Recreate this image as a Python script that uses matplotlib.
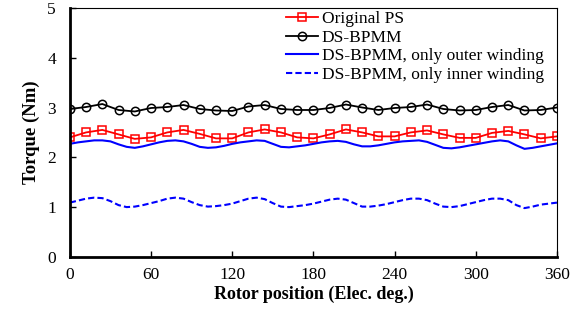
import numpy as np
import matplotlib
matplotlib.use('Agg')
import matplotlib.pyplot as plt

plt.rcParams['font.family'] = ['Liberation Serif', 'DejaVu Serif']

# rotor position (elec. deg)
x_mark = np.arange(0, 361, 12)
x_fine = np.arange(0, 361, 6)

original_ps = [2.40, 2.50, 2.55, 2.46, 2.37, 2.40, 2.50, 2.55, 2.47, 2.38,
               2.38, 2.50, 2.56, 2.50, 2.40, 2.38, 2.46, 2.56, 2.50, 2.42,
               2.42, 2.50, 2.54, 2.46, 2.39, 2.39, 2.49, 2.53, 2.46, 2.38, 2.42]

ds_bpmm = [2.97, 3.01, 3.07, 2.95, 2.92, 2.99, 3.01, 3.05, 2.97, 2.94,
           2.93, 3.02, 3.05, 2.97, 2.95, 2.95, 2.99, 3.06, 3.00, 2.95,
           2.99, 3.01, 3.06, 2.97, 2.94, 2.95, 3.01, 3.05, 2.94, 2.95, 3.00]

outer_only = [2.27, 2.30, 2.32, 2.34, 2.34, 2.32, 2.26, 2.21, 2.19, 2.22,
              2.26, 2.30, 2.33, 2.34, 2.32, 2.27, 2.21, 2.19, 2.20, 2.23,
              2.27, 2.30, 2.32, 2.34, 2.33, 2.27, 2.21, 2.20, 2.22, 2.24,
              2.27, 2.30, 2.32, 2.33, 2.31, 2.26, 2.22, 2.22, 2.24, 2.27,
              2.30, 2.32, 2.33, 2.34, 2.31, 2.25, 2.19, 2.18, 2.20, 2.23,
              2.26, 2.29, 2.32, 2.34, 2.32, 2.24, 2.17, 2.19, 2.22, 2.25, 2.28]

inner_only = [1.09, 1.13, 1.17, 1.19, 1.18, 1.12, 1.04, 1.00, 1.01, 1.04,
              1.08, 1.12, 1.17, 1.19, 1.17, 1.10, 1.04, 1.01, 1.02, 1.04,
              1.07, 1.12, 1.17, 1.19, 1.16, 1.08, 1.01, 1.00, 1.02, 1.04,
              1.07, 1.11, 1.15, 1.17, 1.15, 1.08, 1.01, 1.01, 1.03, 1.06,
              1.10, 1.14, 1.17, 1.17, 1.14, 1.07, 1.01, 1.00, 1.02, 1.06,
              1.10, 1.14, 1.17, 1.17, 1.14, 1.04, 0.98, 1.01, 1.05, 1.07, 1.09]

fig = plt.figure(figsize=(5.82, 3.16), dpi=100)
ax = fig.add_axes([0.120, 0.187, 0.837, 0.788])

ax.plot(x_mark, original_ps, color='red', lw=1.3, marker='s', ms=6,
        mfc='none', mec='red', mew=1.1, label='Original PS')
ax.plot(x_mark, ds_bpmm, color='black', lw=1.3, marker='o', ms=6,
        mfc='none', mec='black', mew=1.1, label='DS-BPMM')
ax.plot(x_fine, outer_only, color='blue', lw=1.5,
        label='DS-BPMM, only outer winding')
ax.plot(x_fine, inner_only, color='blue', lw=1.5, ls=(0, (3, 1.5)),
        label='DS-BPMM, only inner winding')

ax.set_xlim(0, 360)
ax.set_ylim(0, 5)
ax.set_xticks(range(0, 361, 60))
ax.set_yticks(range(0, 6))
ax.tick_params(direction='in', length=4, width=1, labelsize=12.5, pad=7)
ax.tick_params(axis='y', pad=10)

for side in ['left', 'bottom']:
    ax.spines[side].set_linewidth(2)
for side in ['top', 'right']:
    ax.spines[side].set_linewidth(0.8)

ax.set_xlabel('Rotor position (Elec. deg.)', fontsize=13, fontweight='bold', labelpad=2)
ax.set_ylabel('Torque (Nm)', fontsize=13.5, fontweight='bold', labelpad=5)

ax.legend(loc='upper left', bbox_to_anchor=(0.43, 1.015), frameon=False,
          fontsize=12.5, handlelength=1.85, handletextpad=0.2, labelspacing=0.14,
          borderaxespad=0)

fig.savefig('out.png', dpi=100)
